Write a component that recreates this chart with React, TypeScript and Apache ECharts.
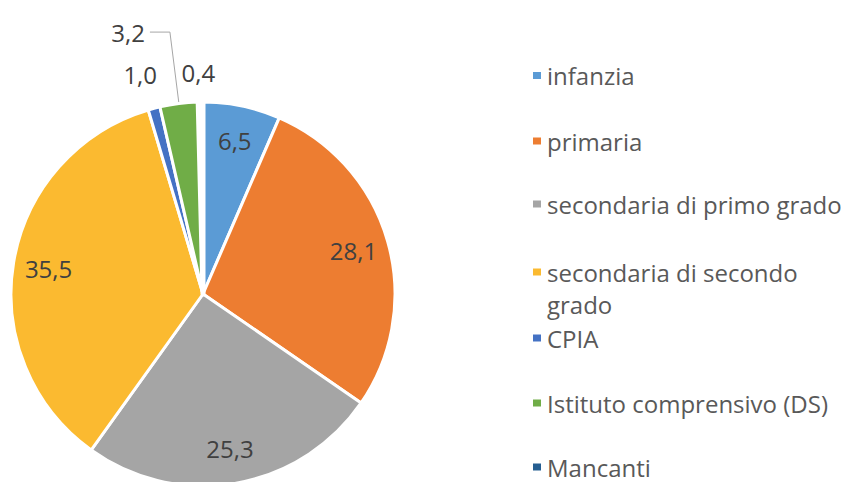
import React, { useEffect, useRef } from 'react';
import * as echarts from 'echarts';

// ---- data ----
const categories = [
  'infanzia',
  'primaria',
  'secondaria di primo grado',
  'secondaria di secondo grado',
  'CPIA',
  'Istituto comprensivo (DS)',
  'Mancanti',
];
const values = [6.5, 28.1, 25.3, 35.5, 1.0, 3.2, 0.4];
const legendTexts = [
  'infanzia',
  'primaria',
  'secondaria di primo grado',
  'secondaria di secondo\ngrado',
  'CPIA',
  'Istituto comprensivo (DS)',
  'Mancanti',
];

// ---- style / layout ----
const colors = ['#5B9BD5', '#ED7D31', '#A5A5A5', '#FBBA30', '#4472C4', '#70AD47', '#255E91'];
const FONT = '"Open Sans", "Noto Sans", sans-serif';
const CX = 203;
const CY = 294;
const R = 192;
const legendMarkerY = [75.5, 141, 204, 272, 338, 403, 467];
const outerLabelCfg: Record<string, { length: number; length2: number; line: boolean; nudge: [number, number] }> = {
  CPIA: { length: 35.5, length2: 0, line: false, nudge: [17, 0] },
  'Istituto comprensivo (DS)': { length: 72, length2: 20, line: true, nudge: [0, 0] },
  Mancanti: { length: 30, length2: 0, line: false, nudge: [20, 0] },
};

const fmt = (v: number) => v.toFixed(1).replace('.', ',');

export default function App() {
  const ref = useRef<HTMLDivElement>(null);
  useEffect(() => {
    if (!ref.current) return;
    const chart = echarts.init(ref.current, undefined, { renderer: 'svg' });

    const legends = categories.map((name, i) => {
      const lines = legendTexts[i].split('\n');
      const multi = lines.length > 1;
      const lh = multi ? 32 : 30;
      // for wrapped entries, an empty leading line keeps the first line level with the marker
      const text = multi ? '\n' + legendTexts[i] : legendTexts[i];
      const nLines = multi ? lines.length + 1 : 1;
      return {
        left: 531,
        top: legendMarkerY[i] - (nLines * lh) / 2,
        orient: 'vertical',
        padding: 0,
        itemWidth: 10,
        itemHeight: 9,
        icon: 'rect',
        selectedMode: false,
        data: [{ name, itemStyle: { color: colors[i] } }],
        formatter: () => text,
        textStyle: {
          fontFamily: FONT,
          fontSize: 24,
          color: '#595959',
          lineHeight: lh,
        },
      };
    });

    chart.setOption({
      animation: false,
      backgroundColor: '#ffffff',
      legend: legends,
      series: [
        {
          type: 'pie',
          center: [CX, CY],
          radius: R,
          startAngle: 90,
          clockwise: true,
          avoidLabelOverlap: false,
          emphasis: { disabled: true },
          itemStyle: { borderColor: '#ffffff', borderWidth: 3 },
          label: {
            position: 'outside',
            formatter: (p: any) => fmt(p.value),
            fontFamily: FONT,
            fontSize: 24,
            color: '#404040',
            distanceToLabelLine: 5,
          },
          labelLine: { show: false, lineStyle: { color: '#A6A6A6', width: 1 } },
          labelLayout: (params: any) => {
            const c = outerLabelCfg[categories[params.dataIndex]];
            if (!c || (c.nudge[0] === 0 && c.nudge[1] === 0)) return {};
            const r = params.labelRect;
            return { x: r.x + r.width + c.nudge[0], y: r.y + r.height / 2 + c.nudge[1] };
          },
          data: categories.map((name, i) => {
            const c = outerLabelCfg[name];
            return {
              name,
              value: values[i],
              itemStyle: { color: colors[i], borderWidth: values[i] < 0.5 ? 5 : 3 },
              label: { show: !!c },
              labelLine: c
                ? { show: c.line, length: c.length, length2: c.length2 }
                : { show: false },
            };
          }),
        },
        {
          type: 'pie',
          center: [CX, CY],
          radius: [R * 0.6, R],
          startAngle: 90,
          clockwise: true,
          silent: true,
          legendHoverLink: false,
          avoidLabelOverlap: false,
          emphasis: { disabled: true },
          itemStyle: { color: 'rgba(0,0,0,0)', borderWidth: 0 },
          label: {
            position: 'inside',
            formatter: (p: any) => fmt(p.value),
            fontFamily: FONT,
            fontSize: 24,
            color: '#404040',
          },
          labelLine: { show: false },
          data: categories.map((name, i) => ({
            name,
            value: values[i],
            label: { show: !outerLabelCfg[name] },
          })),
        },
      ],
    });
    return () => chart.dispose();
  }, []);
  return (
    <div
      ref={ref}
      style={{ position: 'fixed', left: 0, top: 0, width: 845, height: 482, background: '#fff' }}
    />
  );
}
